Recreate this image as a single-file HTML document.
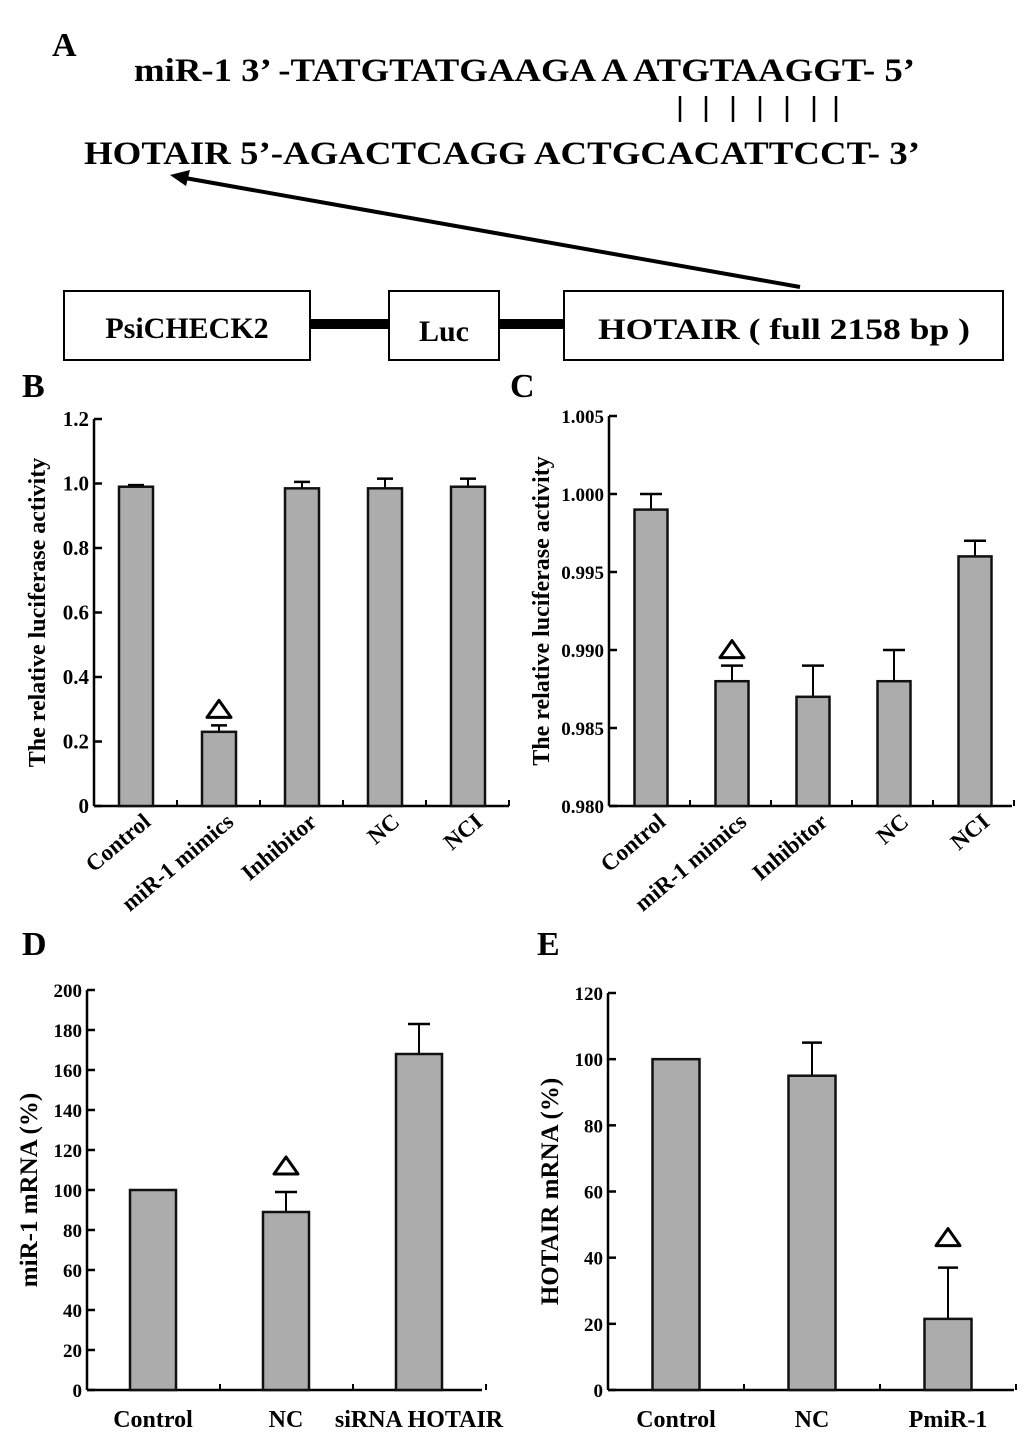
<!DOCTYPE html>
<html><head><meta charset="utf-8"><style>
html,body{margin:0;padding:0;background:#fff;}
svg{display:block;font-family:"Liberation Serif",serif;font-weight:bold;}
</style></head><body>
<svg id="fig" width="1033" height="1437" viewBox="0 0 1033 1437" xmlns="http://www.w3.org/2000/svg">
<g>
<text x="52" y="56" font-size="34">A</text>
<text x="134" y="81" font-size="33" textLength="781" lengthAdjust="spacingAndGlyphs">miR-1  3’ -TATGTATGAAGA A ATGTAAGGT- 5’</text>
<g stroke="#000" stroke-width="2.5">
<line x1="680" y1="96" x2="680" y2="122"/><line x1="706" y1="96" x2="706" y2="122"/><line x1="733" y1="96" x2="733" y2="122"/><line x1="760" y1="96" x2="760" y2="122"/><line x1="787" y1="96" x2="787" y2="122"/><line x1="814" y1="96" x2="814" y2="122"/><line x1="836" y1="96" x2="836" y2="122"/>
</g>
<text x="84" y="164" font-size="33" textLength="836" lengthAdjust="spacingAndGlyphs">HOTAIR  5’-AGACTCAGG ACTGCACATTCCT- 3’</text>
<line x1="800" y1="287" x2="185" y2="178" stroke="#000" stroke-width="4"/>
<polygon points="170,175 190,170 186,186" fill="#000"/>
<rect x="310" y="319" width="80" height="10" fill="#000"/>
<rect x="499" y="319" width="66" height="10" fill="#000"/>
<rect x="64" y="291" width="246" height="69" fill="#fff" stroke="#000" stroke-width="2"/>
<text x="187" y="338" font-size="30" text-anchor="middle">PsiCHECK2</text>
<rect x="389" y="291" width="110" height="69" fill="#fff" stroke="#000" stroke-width="2"/>
<text x="444" y="341" font-size="30" text-anchor="middle">Luc</text>
<rect x="564" y="291" width="439" height="69" fill="#fff" stroke="#000" stroke-width="2"/>
<text x="784" y="339" font-size="30" text-anchor="middle" textLength="372" lengthAdjust="spacingAndGlyphs">HOTAIR ( full  2158 bp )</text>
</g>
<text x="22" y="397" font-size="34">B</text>
<text x="510" y="397" font-size="34">C</text>
<text x="22" y="955" font-size="34">D</text>
<text x="537" y="955" font-size="34">E</text>
</svg>
<script>
// Panel B
const bCategories = ["Control","miR-1 mimics","Inhibitor","NC","NCI"];
const bValues = [0.99, 0.23, 0.985, 0.985, 0.99];
const bErrors = [0.005, 0.02, 0.02, 0.03, 0.025];
const bTicks = [0, 0.2, 0.4, 0.6, 0.8, 1.0, 1.2];
const bTickLabels = ["0","0.2","0.4","0.6","0.8","1.0","1.2"];
const bMarked = [1];
// Panel C
const cCategories = ["Control","miR-1 mimics","Inhibitor","NC","NCI"];
const cValues = [0.999, 0.988, 0.987, 0.988, 0.996];
const cErrors = [0.001, 0.001, 0.002, 0.002, 0.001];
const cTicks = [0.980, 0.985, 0.990, 0.995, 1.000, 1.005];
const cTickLabels = ["0.980","0.985","0.990","0.995","1.000","1.005"];
const cMarked = [1];
// Panel D
const dCategories = ["Control","NC","siRNA HOTAIR"];
const dValues = [100, 89, 168];
const dErrors = [0, 10, 15];
const dTicks = [0,20,40,60,80,100,120,140,160,180,200];
const dTickLabels = ["0","20","40","60","80","100","120","140","160","180","200"];
const dMarked = [1];
// Panel E
const eCategories = ["Control","NC","PmiR-1"];
const eValues = [100, 95, 21.5];
const eErrors = [0, 10, 15.5];
const eTicks = [0,20,40,60,80,100,120];
const eTickLabels = ["0","20","40","60","80","100","120"];
const eMarked = [2];

const NS = "http://www.w3.org/2000/svg";
const svg = document.getElementById("fig");
function mk(tag, attrs, parent){
  const e = document.createElementNS(NS, tag);
  for (const k in attrs) e.setAttribute(k, attrs[k]);
  parent.appendChild(e);
  return e;
}
function chart(o){
  const g = mk("g", {}, svg);
  
  
  const ymin = o.ticks[0], ymax = o.ticks[o.ticks.length-1];
  const yS = v => o.y0 - (v - ymin) / (ymax - ymin) * (o.y0 - o.yTop);
  const xS = i => o.first + i * o.step;
  const ya = mk("line", {x1:o.x0, y1:o.yTop, x2:o.x0, y2:o.y0, stroke:"#000","stroke-width":2.5}, g);
  
  
  const xa = mk("line", {x1:o.x0, y1:o.y0, x2:o.xEnd, y2:o.y0, stroke:"#000","stroke-width":2.5}, g);
  
  
  o.ticks.forEach((t, i) => {
    const y = yS(t);
    const tk = mk("line", {x1:o.x0, y1:y, x2:o.x0+8, y2:y, stroke:"#000","stroke-width":2.5}, g);
    
    
    const tl = mk("text", {x:o.x0-5, y:y+7, "font-size":o.tickSize, "text-anchor":"end"}, g);
    tl.textContent = o.tickLabels[i];
    
    
  });
  for (let i = 1; i <= o.cats.length; i++) {
    const x = o.x0 + i * o.step;
    const xt = mk("line", {x1:x, y1:o.y0, x2:x, y2:o.y0-6, stroke:"#000","stroke-width":2}, g);
    
    
  }
  const yt = mk("text", {x:0, y:0, "font-size":o.titleSize, "text-anchor":"middle",
    transform:`translate(${o.titleX},${(o.y0+o.yTop)/2}) rotate(-90)`}, g);
  yt.textContent = o.title;
  
  
  o.cats.forEach((c, i) => {
    const cx = xS(i);
    const top = yS(o.vals[i]);
    const eTop = yS(o.vals[i] + o.errs[i]);
    if (o.errs[i] > 0) {
      const el = mk("line", {x1:cx, y1:eTop, x2:cx, y2:top, stroke:"#000","stroke-width":2}, g);
      
      
      const ec = mk("line", {x1:cx-o.cap, y1:eTop, x2:cx+o.cap, y2:eTop, stroke:"#000","stroke-width":2.5}, g);
      
      
    }
    const r = mk("rect", {x:cx-o.bw/2, y:top, width:o.bw, height:o.y0-top, fill:"#acacac", stroke:"#111","stroke-width":2.5}, g);
    
    
    if (o.marked.includes(i)) {
      const ty = Math.min(eTop, top) - o.triGap;
      const tr = mk("polygon", {points:`${cx},${ty-17} ${cx-12},${ty} ${cx+12},${ty}`, fill:"none", stroke:"#000","stroke-width":3,"stroke-linejoin":"round"}, g);
      
      
    }
    let lab;
    if (o.rotate) {
      lab = mk("text", {x:0, y:0, "font-size":23, "text-anchor":"end",
        transform:`translate(${cx+16},${o.y0+18}) rotate(-40)`}, g);
    } else {
      lab = mk("text", {x:cx, y:o.y0+37, "font-size":24, "text-anchor":"middle"}, g);
    }
    lab.textContent = c;
    
    
  });
}
chart({name:"chart-b", cats:bCategories, vals:bValues, errs:bErrors, ticks:bTicks, tickLabels:bTickLabels, marked:bMarked,
  x0:94, xEnd:509, y0:806, yTop:419, first:136, step:83, bw:34, cap:8, rotate:true, title:"The relative luciferase activity", titleX:45, titleSize:24, tickSize:21, triGap:8});
chart({name:"chart-c", cats:cCategories, vals:cValues, errs:cErrors, ticks:cTicks, tickLabels:cTickLabels, marked:cMarked,
  x0:609, xEnd:1012, y0:806, yTop:416, first:651, step:81, bw:33, cap:11, rotate:true, title:"The relative luciferase activity", titleX:549, titleSize:24, tickSize:19, triGap:8});
chart({name:"chart-d", cats:dCategories, vals:dValues, errs:dErrors, ticks:dTicks, tickLabels:dTickLabels, marked:dMarked,
  x0:87, xEnd:482, y0:1390, yTop:990, first:153, step:133, bw:46, cap:11, rotate:false, title:"miR-1 mRNA (%)", titleX:37, titleSize:25, tickSize:19, triGap:18});
chart({name:"chart-e", cats:eCategories, vals:eValues, errs:eErrors, ticks:eTicks, tickLabels:eTickLabels, marked:eMarked,
  x0:608, xEnd:1014, y0:1390, yTop:993, first:676, step:136, bw:47, cap:10, rotate:false, title:"HOTAIR mRNA (%)", titleX:558, titleSize:25, tickSize:19, triGap:22});
</script>
</body></html>
